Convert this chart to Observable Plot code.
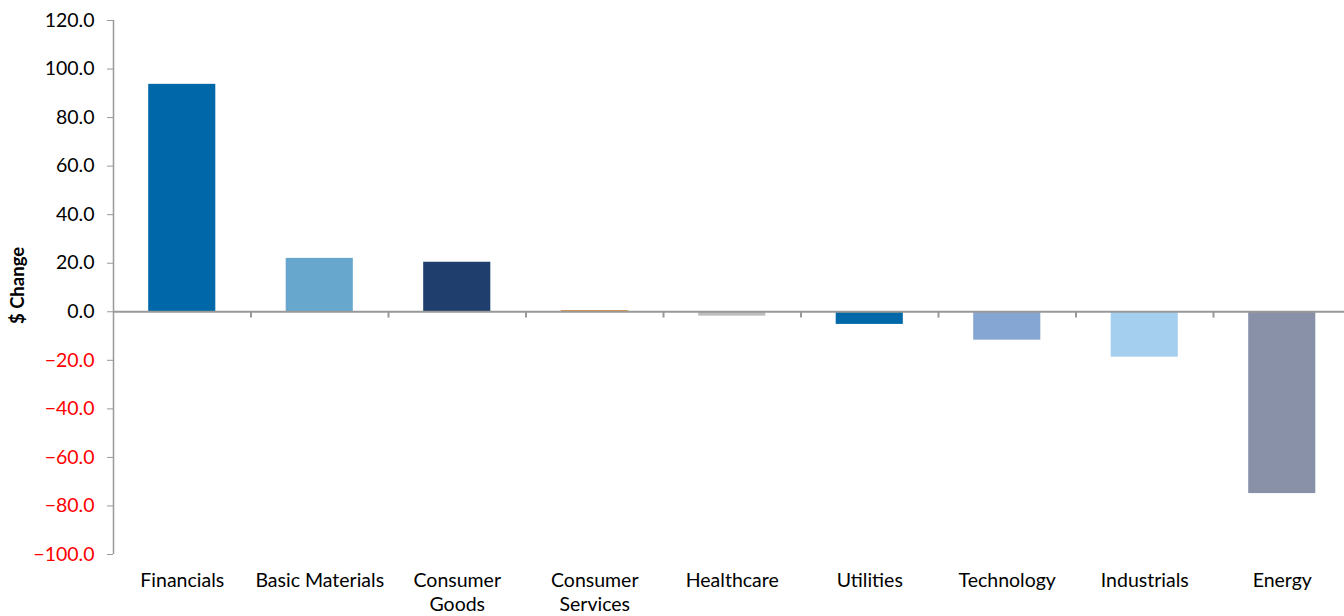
<!DOCTYPE html>
<html>
<head>
<meta charset="utf-8">
<script src="https://cdn.jsdelivr.net/npm/d3@7"></script>
<script src="https://cdn.jsdelivr.net/npm/@observablehq/plot@0.6"></script>
<style>
  html, body { margin: 0; padding: 0; background: #fff; overflow: hidden; }
  #chart svg { display: block; }
</style>
</head>
<body>
<div id="chart"></div>
<script>
const categories = ["Financials", "Basic Materials", "Consumer Goods", "Consumer Services", "Healthcare", "Utilities", "Technology", "Industrials", "Energy"];
const labels = ["Financials", "Basic Materials", "Consumer\nGoods", "Consumer\nServices", "Healthcare", "Utilities", "Technology", "Industrials", "Energy"];
const values = [93.7, 22.0, 20.4, 0.5, -1.8, -5.2, -11.7, -18.7, -74.9];
const colors = ["#0068A8", "#67A7CE", "#1F3E6D", "#D98E3A", "#BDBDBD", "#0068A8", "#85A6D2", "#A5CFEF", "#8891A8"];
const yTicksPos = [0, 20, 40, 60, 80, 100, 120];
const yTicksNeg = [-100, -80, -60, -40, -20];
const yLabel = "$ Change";

const data = categories.map((c, i) => ({category: c, value: values[i], color: colors[i]}));
const labelOf = new Map(categories.map((c, i) => [c, labels[i]]));

const W = 1344, H = 616, ML = 113, MR = -6.5;
const step = (W - ML - MR) / categories.length;
const axisColor = "#999999";
const font = "Lato, 'Open Sans', sans-serif";

const chart = Plot.plot({
  width: W,
  height: H,
  marginLeft: ML,
  marginRight: MR,
  marginTop: 20,
  marginBottom: 62,
  style: {fontFamily: font, fontSize: "19.5px", color: "#000", background: "#fff", overflow: "hidden"},
  x: {domain: categories, padding: 0, round: false, axis: null},
  y: {domain: [-100, 120], axis: null},
  marks: [
    Plot.barY(data, {x: "category", y: "value", fill: "color", insetLeft: 35.2, insetRight: 35.2}),
    Plot.ruleY([0], {stroke: axisColor, strokeWidth: 2}),
    Plot.ruleX(categories, {x: d => d, dx: step / 2, y1: 0, y2: -2.6, stroke: axisColor, strokeWidth: 2}),
    Plot.ruleX([categories[0]], {x: d => d, dx: -step / 2, y1: -100, y2: 120, stroke: axisColor, strokeWidth: 1.5}),
    Plot.axisY({ticks: yTicksPos, tickFormat: d3.format(".1f"), tickSize: 6, tickPadding: 13, stroke: axisColor, fill: "#000", fontSize: 19.5, label: null}),
    Plot.axisY({ticks: yTicksNeg, tickFormat: d3.format(".1f"), tickSize: 6, tickPadding: 13, stroke: axisColor, fill: "#FF0000", fontSize: 19.5, label: null}),
    Plot.axisX({tickSize: 0, tickPadding: 15, tickFormat: d => labelOf.get(d), fontSize: 19.5, lineHeight: 1.25, label: null}),
    Plot.text([yLabel], {text: d => d, frameAnchor: "left", textAnchor: "middle", dx: -95, dy: -2, rotate: -90, fontWeight: "bold", fontSize: 18.5, fill: "#000"})
  ]
});
document.getElementById("chart").appendChild(chart);
</script>
</body>
</html>
